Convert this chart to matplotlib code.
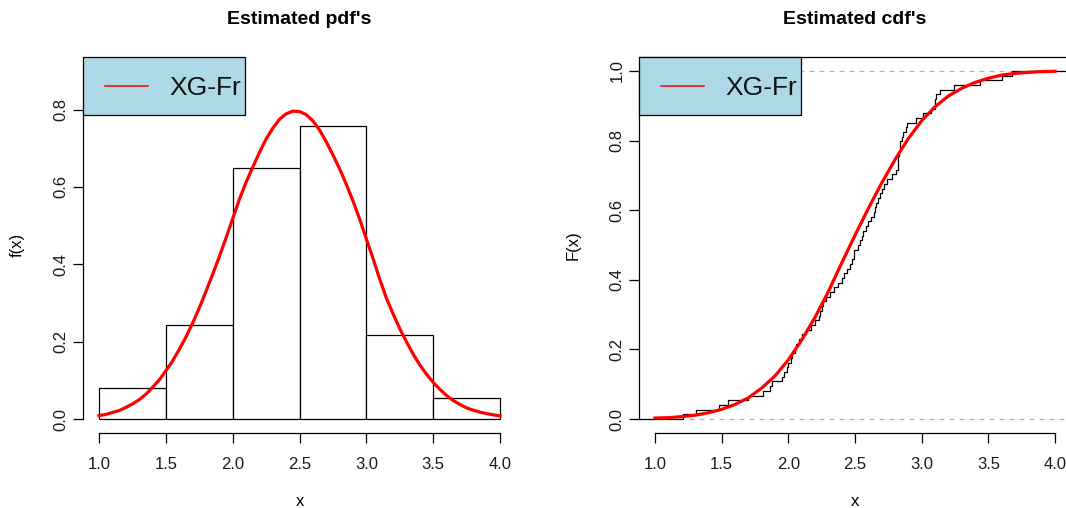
import numpy as np
import matplotlib
matplotlib.use("Agg")
import matplotlib.pyplot as plt
from matplotlib.patches import Rectangle

plt.rcParams['font.family'] = ['Liberation Sans', 'DejaVu Sans']

# ---------------- data ----------------
sample = [1.21, 1.31, 1.48,
          1.55, 1.70, 1.81, 1.86, 1.88, 1.95, 1.97, 1.99, 1.995,
          2.02, 2.03, 2.05, 2.06, 2.08, 2.10, 2.13, 2.17, 2.20, 2.23,
          2.24, 2.25, 2.26, 2.28, 2.31, 2.34, 2.37, 2.40, 2.42, 2.44,
          2.46, 2.48, 2.49, 2.495,
          2.52, 2.54, 2.55, 2.56, 2.58, 2.60, 2.62, 2.64, 2.65, 2.66,
          2.67, 2.69, 2.70, 2.72, 2.74, 2.78, 2.81, 2.82, 2.82, 2.82,
          2.83, 2.84, 2.84, 2.85, 2.86, 2.88, 2.89, 2.96,
          3.01, 3.07, 3.10, 3.10, 3.11, 3.14, 3.24, 3.44,
          3.60, 3.68]
bin_edges = [1.0, 1.5, 2.0, 2.5, 3.0, 3.5, 4.0]

pdf_x = [1.00, 1.05, 1.10, 1.15, 1.20, 1.25, 1.30, 1.35, 1.40, 1.45,
         1.50, 1.55, 1.60, 1.65, 1.70, 1.75, 1.80, 1.85, 1.90, 1.95,
         2.00, 2.05, 2.10, 2.15, 2.20, 2.25, 2.30, 2.35, 2.40, 2.45,
         2.50, 2.55, 2.60, 2.65, 2.70, 2.75, 2.80, 2.85, 2.90, 2.95,
         3.00, 3.05, 3.10, 3.15, 3.20, 3.25, 3.30, 3.35, 3.40, 3.45,
         3.50, 3.55, 3.60, 3.65, 3.70, 3.75, 3.80, 3.85, 3.90, 3.95, 4.00]
pdf_y = [0.009, 0.012, 0.017, 0.022, 0.030, 0.039, 0.050, 0.064, 0.082, 0.101,
         0.125, 0.150, 0.180, 0.212, 0.248, 0.287, 0.330, 0.374, 0.420, 0.468,
         0.518, 0.568, 0.612, 0.651, 0.689, 0.724, 0.752, 0.775, 0.789, 0.796,
         0.795, 0.787, 0.771, 0.747, 0.717, 0.683, 0.647, 0.607, 0.564, 0.517,
         0.466, 0.415, 0.362, 0.313, 0.272, 0.234, 0.200, 0.168, 0.140, 0.116,
         0.095, 0.077, 0.061, 0.048, 0.038, 0.029, 0.023, 0.018, 0.014, 0.011, 0.008]

cdf_x = [1.0, 1.1, 1.2, 1.3, 1.4, 1.5, 1.6, 1.7, 1.8, 1.9,
         2.0, 2.1, 2.2, 2.3, 2.4, 2.5, 2.6, 2.7, 2.8, 2.9,
         3.0, 3.1, 3.2, 3.3, 3.4, 3.5, 3.6, 3.7, 3.8, 3.9, 4.0]
cdf_y = [0.003, 0.004, 0.007, 0.011, 0.018, 0.028, 0.042, 0.061, 0.089, 0.124,
         0.170, 0.227, 0.292, 0.366, 0.448, 0.528, 0.605, 0.678, 0.745, 0.806,
         0.857, 0.897, 0.928, 0.950, 0.967, 0.979, 0.988, 0.993, 0.996, 0.998, 0.999]

legend_label = "XG-Fr"
titles = ["Estimated pdf's", "Estimated cdf's"]
xticks = [1.0, 1.5, 2.0, 2.5, 3.0, 3.5, 4.0]
yticks_pdf = [0.0, 0.2, 0.4, 0.6, 0.8]
yticks_cdf = [0.0, 0.2, 0.4, 0.6, 0.8, 1.0]

# ---------------- figure ----------------
W, H = 1066, 508
fig = plt.figure(figsize=(W / 100, H / 100), dpi=100)

def px_axes(x0, x1, ytop, ybot):
    return fig.add_axes([x0 / W, 1 - ybot / H, (x1 - x0) / W, (ybot - ytop) / H])

ax1 = px_axes(83, 516, 57, 433)
ax2 = px_axes(639, 1071, 57, 433)

tick_color = '#1a1a1a'

def style_axes(ax, ylim_top, yticks, show_top=False):
    ax.set_xlim(1 - 0.12, 4 + 0.12)
    ax.set_ylim(-0.04 * ylim_top, ylim_top * 1.04)
    ax.spines['right'].set_visible(False)
    ax.spines['top'].set_visible(show_top)
    ax.spines['bottom'].set_bounds(1, 4)
    ax.spines['left'].set_bounds(yticks[0], yticks[-1])
    for s in ['bottom', 'left', 'top']:
        ax.spines[s].set_linewidth(0.9)
        ax.spines[s].set_color('black')
    ax.set_xticks(xticks)
    ax.set_xticklabels([f"{t:.1f}" for t in xticks])
    ax.set_yticks(yticks)
    ax.set_yticklabels([f"{t:.1f}" for t in yticks], rotation=90, va='center')
    ax.tick_params(axis='x', direction='out', length=7, width=0.9, pad=10,
                   labelsize=12, labelcolor=tick_color)
    ax.tick_params(axis='y', direction='out', length=7, width=0.9, pad=3.5,
                   labelsize=12, labelcolor=tick_color)
    ax.set_facecolor('white')

def add_legend(ax, axw_px, axh_px):
    def fx(p):
        return p / axw_px
    def fy(p):
        return 1 - p / axh_px
    rect = Rectangle((fx(0), fy(58)), fx(162), 58 / axh_px, transform=ax.transAxes,
                     facecolor='#ADD8E6', edgecolor='black', linewidth=0.9,
                     zorder=5, clip_on=False)
    ax.add_patch(rect)
    ax.plot([fx(22), fx(65)], [fy(29), fy(29)], transform=ax.transAxes,
            color='red', lw=1.1, zorder=6, clip_on=False)
    ax.text(fx(86), fy(31), legend_label, transform=ax.transAxes, fontsize=19,
            va='center', ha='left', zorder=6, color='#111111')

def fig_text(xp, yp, s, **kw):
    fig.text(xp / W, 1 - yp / H, s, ha='center', va='center', **kw)

# ---------- left: histogram + pdf ----------
style_axes(ax1, 0.9, yticks_pdf)
ax1.hist(sample, bins=bin_edges, density=True, facecolor='white',
         edgecolor='black', linewidth=0.9, zorder=2)
ax1.plot(pdf_x, pdf_y, color='red', lw=2.3, zorder=3)
add_legend(ax1, 433, 376)
fig_text(299.5, 20, titles[0], fontsize=14, fontweight='bold')
fig_text(299.5, 502, 'x', fontsize=12)
fig_text(17, 245, 'f(x)', fontsize=12, rotation=90)

# ---------- right: ECDF + cdf ----------
style_axes(ax2, 1.0, yticks_cdf, show_top=True)
ax2.spines['top'].set_bounds(0.88, 4.12)
ax2.axhline(0, color='#B3B3B3', lw=0.9, ls=(0, (4, 4)), zorder=1)
ax2.axhline(1, color='#B3B3B3', lw=0.9, ls=(0, (4, 4)), zorder=1)
xs = sorted(sample)
n = len(xs)
step_x = [0.88] + xs + [4.12]
step_y = [0.0] + [(i + 1) / n for i in range(n)] + [1.0]
ax2.step(step_x, step_y, where='post', color='black', lw=0.9, zorder=2)
ax2.plot(cdf_x, cdf_y, color='red', lw=2.3, zorder=3)
add_legend(ax2, 432, 376)
fig_text(855, 20, titles[1], fontsize=14, fontweight='bold')
fig_text(855, 502, 'x', fontsize=12)
fig_text(573, 245, 'F(x)', fontsize=12, rotation=90)

fig.savefig('out.png', dpi=100)
